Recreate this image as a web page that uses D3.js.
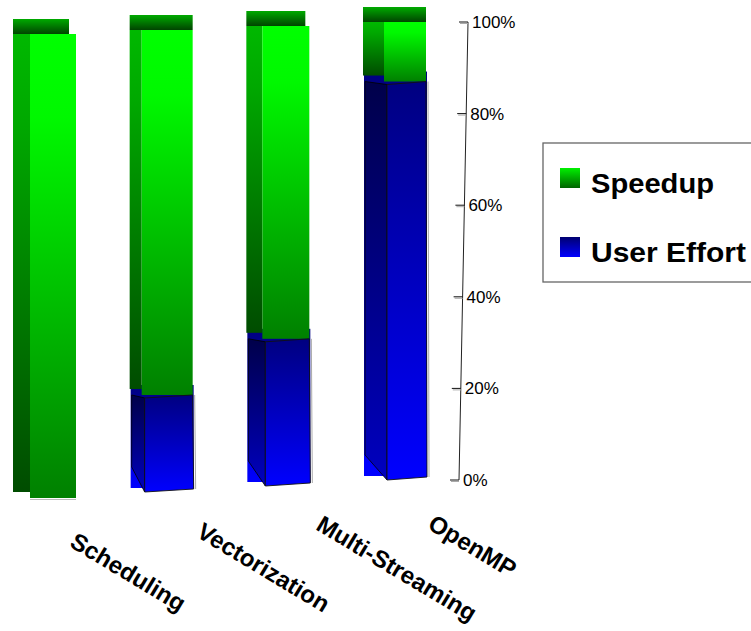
<!DOCTYPE html>
<html>
<head>
<meta charset="utf-8">
<script src="https://cdn.jsdelivr.net/npm/d3@7"></script>
<style>
  html, body { margin: 0; padding: 0; background: #fff; }
  svg { display: block; font-family: "Liberation Sans", Arial, sans-serif; }
</style>
</head>
<body>
<svg id="chart" width="751" height="631"></svg>
<script>
// Share of each technique: user effort (bottom) vs. speedup (top), in percent
const categories = ["Scheduling", "Vectorization", "Multi-Streaming", "OpenMP"];
const userEffort = [0, 21, 32, 87];
const speedup = [100, 79, 68, 13];
const seriesNames = ["Speedup", "User Effort"];
const yTicks = [0, 0.2, 0.4, 0.6, 0.8, 1];

const svg = d3.select("#chart");
const defs = svg.append("defs");

function vGrad(id, stops) {
  const g = defs.append("linearGradient").attr("id", id)
    .attr("x1", 0).attr("y1", 0).attr("x2", 0).attr("y2", 1);
  stops.forEach(([o, c]) => g.append("stop").attr("offset", o).attr("stop-color", c));
}
vGrad("gFront", [[0, "#00ff00"], [0.18, "#00f800"], [1, "#008000"]]);
vGrad("gSide", [[0, "#00b800"], [0.2, "#00a800"], [1, "#004c00"]]);
vGrad("gCap", [[0, "#00aa00"], [1, "#004400"]]);
vGrad("bFront", [[0, "#000080"], [1, "#0000ff"]]);
vGrad("bSide", [[0, "#00004a"], [1, "#0000c0"]]);
vGrad("gSwatch", [[0, "#00f000"], [1, "#006400"]]);
vGrad("bSwatch", [[0, "#000070"], [1, "#0000ff"]]);

// Stack the two series and normalise each column to 100 %
const rows = categories.map((c, i) => ({ cat: c, user: userEffort[i], speed: speedup[i] }));
const stacked = d3.stack().keys(["user", "speed"]).offset(d3.stackOffsetExpand)(rows);

// Perspective layout: each column sits a little higher and further right
const idx = d3.scaleLinear().domain([0, categories.length - 1]);
const xCenter = d3.scalePoint().domain(categories).range([44.5, 394.5]);
const baseY = idx.copy().range([498, 480]);
const topY = idx.copy().range([34, 22]);
const sideW = [17, 12, 16, 21];
const capTrim = [7, 0, 4, 0];
const barW = 63;

const barScale = i => d3.scaleLinear().domain([0, 1]).range([baseY(i), topY(i)]);

categories.forEach((cat, i) => {
  const y = barScale(i);
  const cx = xCenter(cat);
  const sx0 = cx - barW / 2;
  const fx0 = sx0 + sideW[i];
  const fx1 = sx0 + barW;
  const g = svg.append("g");

  const [u0, u1] = [stacked[0][i][0], stacked[0][i][1]];
  const [s0, s1] = [stacked[1][i][0], stacked[1][i][1]];

  // back panel of the user-effort block
  if (u1 > u0) {
    g.append("rect")
      .attr("x", sx0 + 1).attr("y", y(u1) - 10)
      .attr("width", fx1 - sx0).attr("height", y(u0) - y(u1) + 10 - 4)
      .attr("fill", "url(#bFront)");
  }

  // speedup block: side, front, cap
  if (s1 > s0) {
    g.append("rect")
      .attr("x", sx0).attr("y", y(s1))
      .attr("width", fx0 - sx0).attr("height", y(s0) - y(s1) - 6)
      .attr("fill", "url(#gSide)");
    g.append("rect")
      .attr("x", fx0).attr("y", y(s1))
      .attr("width", fx1 - fx0).attr("height", y(s0) - y(s1))
      .attr("fill", "url(#gFront)");
    g.append("rect")
      .attr("x", sx0).attr("y", y(s1) - 15)
      .attr("width", fx1 - sx0 - capTrim[i]).attr("height", 15)
      .attr("fill", "url(#gCap)");
    if (u1 <= u0) {
      g.append("line")
        .attr("x1", fx0).attr("x2", fx1)
        .attr("y1", y(s0) + 1.5).attr("y2", y(s0) + 1.5)
        .attr("stroke", "#bbb").attr("stroke-width", 1);
    }
  }

  // user-effort block: side and front with outlines
  if (u1 > u0) {
    const yt = y(u1), yb = y(u0);
    g.append("path")
      .attr("d", `M${sx0 + 2},${yt} L${fx0 + 3},${yt + 3} L${fx0 + 3},${yb} L${sx0 + 2},${yb - 25} Z`)
      .attr("fill", "url(#bSide)")
      .attr("stroke", "#000").attr("stroke-width", 0.8);
    g.append("path")
      .attr("d", `M${fx0 + 3},${yt + 3} L${fx1},${yt} L${fx1 + 1},${yb - 3} L${fx0 + 3},${yb} Z`)
      .attr("fill", "url(#bFront)")
      .attr("stroke", "#111").attr("stroke-width", 0.9);
    g.append("line")
      .attr("x1", fx1 + 2).attr("x2", fx1 + 3)
      .attr("y1", yt).attr("y2", yb - 3)
      .attr("stroke", "#aaa").attr("stroke-width", 1);
  }
});

// Slanted value axis on the right
const yAxis = d3.scaleLinear().domain([0, 1]).range([480, 22]);
const axisX = d3.scaleLinear().domain([0, 1]).range([459, 468]);
const fmt = d3.format(".0%");
const ax = svg.append("g");
ax.append("line")
  .attr("x1", axisX(0)).attr("y1", yAxis(0))
  .attr("x2", axisX(1)).attr("y2", yAxis(1))
  .attr("stroke", "#222").attr("stroke-width", 1);
yTicks.forEach(t => {
  const x = axisX(t), yy = yAxis(t);
  ax.append("line").attr("x1", x - 8).attr("x2", x).attr("y1", yy + 1.5).attr("y2", yy + 1.5)
    .attr("stroke", "#aaa").attr("stroke-width", 1);
  ax.append("line").attr("x1", x - 9).attr("x2", x).attr("y1", yy).attr("y2", yy)
    .attr("stroke", "#111").attr("stroke-width", 1);
  ax.append("text").attr("x", x + 4).attr("y", yy + 6)
    .attr("font-size", 17).attr("fill", "#000").text(fmt(t));
});

// Category labels, tilted
const labelDx = [24, 34, 37, 32];
const labelY = [546, 536, 529, 528];
categories.forEach((cat, i) => {
  const lx = xCenter(cat) + labelDx[i], ly = labelY[i];
  svg.append("text")
    .attr("transform", `translate(${lx},${ly}) rotate(31)`)
    .attr("font-size", 24).attr("font-weight", "bold").attr("fill", "#000")
    .text(cat);
});

// Legend
const lg = svg.append("g");
lg.append("rect").attr("x", 543).attr("y", 143).attr("width", 230).attr("height", 139)
  .attr("fill", "#fff").attr("stroke", "#666").attr("stroke-width", 1.3);
const legendItems = [
  { name: seriesNames[0], fill: "url(#gSwatch)", y: 168 },
  { name: seriesNames[1], fill: "url(#bSwatch)", y: 237 }
];
legendItems.forEach(d => {
  lg.append("rect").attr("x", 560).attr("y", d.y).attr("width", 20).attr("height", 20).attr("fill", d.fill);
  lg.append("text").attr("x", 591).attr("y", d.y + 25)
    .attr("font-size", 27).attr("font-weight", "bold").attr("fill", "#000")
    .attr("textLength", d.name === "Speedup" ? 123 : 155).attr("lengthAdjust", "spacingAndGlyphs")
    .text(d.name);
});
</script>
</body>
</html>
